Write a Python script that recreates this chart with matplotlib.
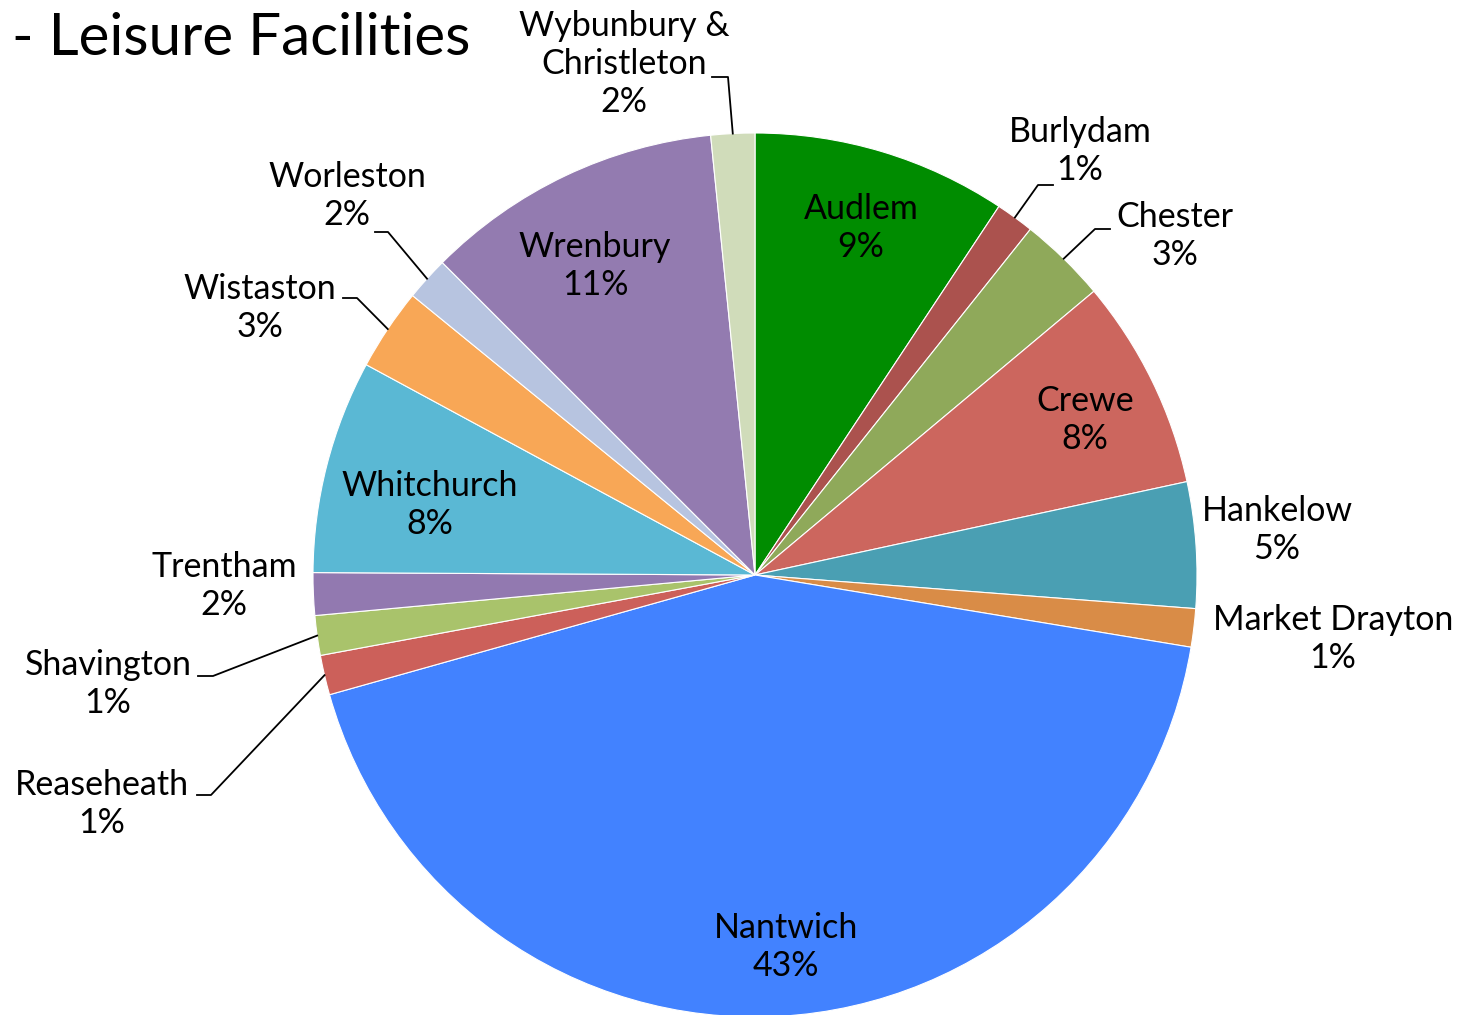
import matplotlib
matplotlib.use("Agg")
import matplotlib.pyplot as plt
import numpy as np

plt.rcParams['font.family'] = ['Lato', 'DejaVu Sans']

# share of responses, clockwise from 12 o'clock
towns = ["Audlem", "Burlydam", "Chester", "Crewe", "Hankelow", "Market Drayton",
         "Nantwich", "Reaseheath", "Shavington", "Trentham", "Whitchurch",
         "Wistaston", "Worleston", "Wrenbury", "Wybunbury &\nChristleton"]
shares = [9.3, 1.4, 3.2, 7.7, 4.6, 1.4, 43.0, 1.45, 1.45, 1.55, 7.8, 3.0, 1.6, 10.9, 1.6]
colours = ["#008C00", "#AB524E", "#8FA95A", "#CC665E", "#4A9FB3", "#D98C47",
           "#4282FF", "#CC605A", "#A9C36B", "#9279B0", "#5AB8D4", "#F8A756",
           "#B7C4E0", "#937BB0", "#D0DCBA"]

# label centres (pixels) and leader elbows
label_pos = [(861, 228), (1080, 151), (1175, 236), (1085, 420), (1277, 530),
             (1333, 639), (786, 947), (102, 804), (108, 684), (224, 586),
             (430, 505), (260, 308), (347, 196), (595, 266), (624, 64)]
leaders = {1: [(1053, 185), (1038, 185)], 2: [(1110, 229), (1095, 229)],
           7: [(197, 795), (211, 795)], 8: [(198, 676), (213, 676)],
           11: [(343, 298), (357, 298)], 12: [(375, 232), (388, 232)],
           14: [(712, 77), (728, 77)]}

cx, cy, R = 755, 575, 442

fig = plt.figure(figsize=(14.65, 10.15), dpi=100)
ax = fig.add_axes([0, 0, 1, 1])
wedges, _ = ax.pie(shares, colors=colours, center=(cx, cy), radius=R,
                   startangle=-90, counterclock=True, normalize=True,
                   wedgeprops=dict(edgecolor="white", linewidth=0.8))
ax.set_xlim(0, 1465)
ax.set_ylim(1015, 0)
ax.set_aspect("equal")
ax.axis("off")

tot = sum(shares)
for i, w in enumerate(wedges):
    pct = round(shares[i] / tot * 100)
    x, y = label_pos[i]
    ax.text(x, y, f"{towns[i]}\n{pct}%", ha="center", va="center",
            fontsize=24.5, linespacing=1.22, color="black")
    if i in leaders:
        mid = np.deg2rad((w.theta1 + w.theta2) / 2)
        ax_pt = (cx + R * np.cos(mid), cy + R * np.sin(mid))
        pts = leaders[i] + [ax_pt]
        ax.plot([p[0] for p in pts], [p[1] for p in pts], color="black", lw=1.3)

ax.text(12, 38, "- Leisure Facilities", fontsize=42, ha="left", va="center")

fig.savefig("out.png", dpi=100)
